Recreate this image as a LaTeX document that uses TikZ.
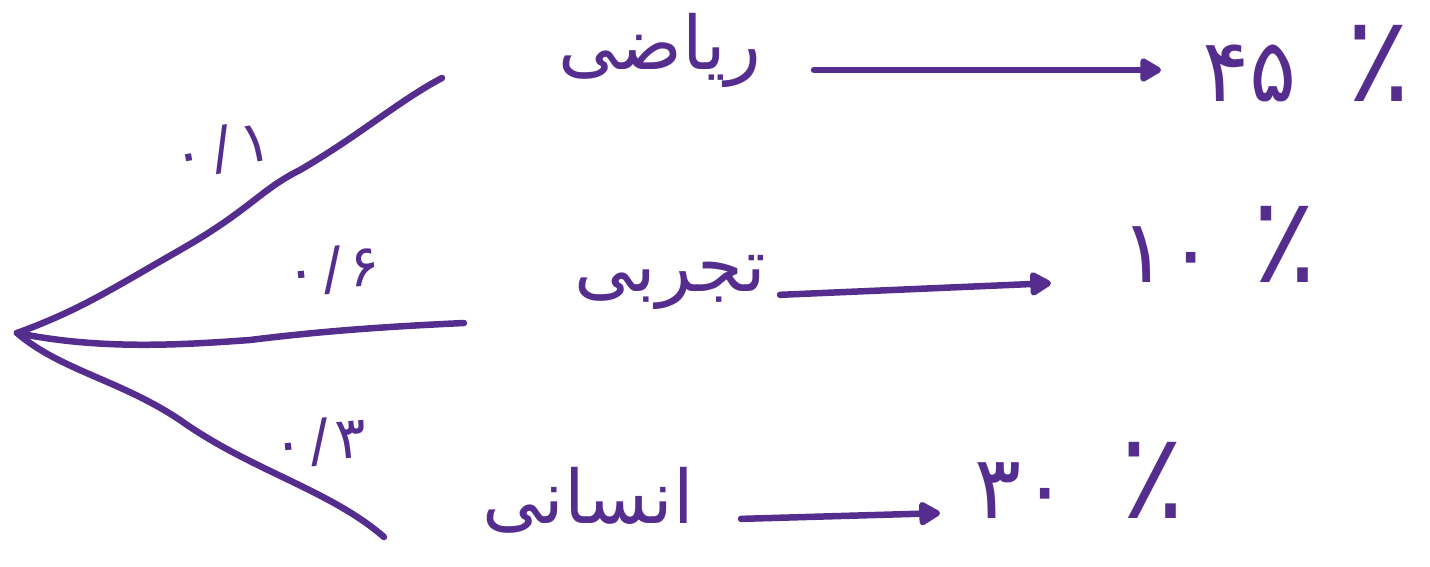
\documentclass[tikz,border=0pt]{standalone}
\usepackage{fontspec}
\usetikzlibrary{arrows.meta}
\TeXXeTstate=1
\newfontfamily\arabicfont[Script=Arabic]{DejaVu Sans}
\definecolor{ink}{HTML}{552D8E}
\newcommand{\bigpct}{{\fontsize{120}{120}\selectfont ٪}}
\tikzset{
  stroke/.style={draw=ink, line width=6.5pt, line cap=round, line join=round},
  arr/.style={stroke, -{Triangle[length=24pt,width=26pt,round]}, shorten >=4pt, shorten <=4pt},
  word/.style={text=ink, font=\arabicfont\fontsize{74}{80}\selectfont, inner sep=2pt},
  pct/.style={text=ink, font=\arabicfont\fontsize{88}{94}\selectfont, inner sep=2pt},
  prob/.style={text=ink, font=\arabicfont\fontsize{58}{60}\selectfont, inner sep=1pt}
}
\begin{document}
\begin{tikzpicture}[x=1pt,y=-1pt]
\useasboundingbox (0,0) rectangle (1430,566);
% root and branch ends
\coordinate (root) at (17,333);
\coordinate (e1) at (442,78);
\coordinate (e2) at (464,323);
\coordinate (e3) at (384,537);
% branches
\draw[stroke] (root) .. controls (80,310) and (110,290) .. (180,250)
  .. controls (250,210) and (260,190) .. (300,170)
  .. controls (360,135) and (400,100) .. (e1);
\draw[stroke] (root) .. controls (100,350) and (180,345) .. (250,340)
  .. controls (330,330) and (400,326) .. (e2);
\draw[stroke] (root) .. controls (60,370) and (120,380) .. (180,420)
  .. controls (250,470) and (330,490) .. (e3);
% probability labels
\node[prob, rotate=10] (p1) at (222,150) {\beginR ۱\kern9pt/\kern9pt۰\endR};
\node[prob, rotate=5] (p2) at (333,270) {\beginR ۶\kern6pt/\kern6pt۰\endR};
\node[prob, rotate=5] (p3) at (320,442) {\beginR ۳\kern6pt/\kern6pt۰\endR};
% words
\node[word] (w1) at (660,50) {\beginR ریاضی\endR};
\node[word] (w2) at (670,282) {\beginR تجربی\endR};
\node[word] (w3) at (588,500) {\beginR انسانی\endR};
% percentages
\node[pct, anchor=west] (r1) at (1200,64) {\beginR \bigpct\hspace{50pt}۴۵\endR};
\node[pct, anchor=west] (r2) at (1118,244) {\beginR \bigpct\hspace{38pt}۱۰\endR};
\node[pct, anchor=west] (r3) at (972,480) {\beginR \bigpct\hspace{52pt}۳۰\endR};
% arrows
\draw[arr] (810,70) -- (1165,70);
\draw[arr] (776,295) -- (1055,283);
\draw[arr] (737,519) -- (944,513);
\end{tikzpicture}
\end{document}
